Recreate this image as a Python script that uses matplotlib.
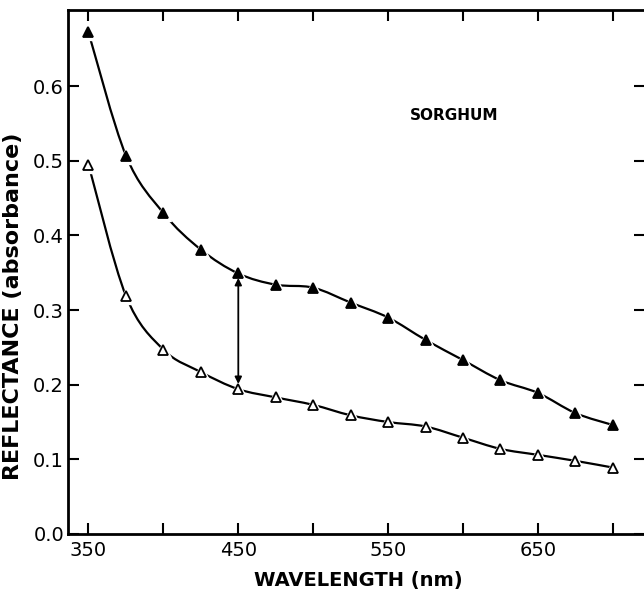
import numpy as np
import matplotlib
matplotlib.use("Agg")
import matplotlib.pyplot as plt
from matplotlib.path import Path
from matplotlib.patches import PathPatch

# wavelengths (nm) and values
wavelength = [350, 375, 400, 425, 450, 475, 500, 525, 550, 575, 600, 625, 650, 675, 700]
upper = [0.672, 0.507, 0.430, 0.381, 0.349, 0.334, 0.330, 0.310, 0.290, 0.260,
         0.233, 0.206, 0.189, 0.162, 0.146]
lower = [0.495, 0.319, 0.247, 0.217, 0.194, 0.183, 0.173, 0.159, 0.150, 0.144,
         0.129, 0.114, 0.106, 0.098, 0.089]

x_ticks = [350, 400, 450, 500, 550, 600, 650, 700]
x_labels = ["350", "", "450", "", "550", "", "650", ""]
y_ticks = [0.0, 0.1, 0.2, 0.3, 0.4, 0.5, 0.6]

plt.rcParams['font.family'] = ['DejaVu Sans']


def smooth_path(xs, ys):
    # hand-drawn look: cubic bezier segments through the points (catmull-rom tangents)
    pts = np.column_stack([xs, ys]).astype(float)
    n = len(pts)
    verts = [pts[0]]
    codes = [Path.MOVETO]
    for i in range(n - 1):
        p0 = pts[max(i - 1, 0)]
        p1 = pts[i]
        p2 = pts[i + 1]
        p3 = pts[min(i + 2, n - 1)]
        c1 = p1 + (p2 - p0) / 6.0
        c2 = p2 - (p3 - p1) / 6.0
        verts += [c1, c2, p2]
        codes += [Path.CURVE4] * 3
    return Path(verts, codes)


fig = plt.figure(figsize=(6.44, 5.89), dpi=100)
ax = fig.add_axes([0.106, 0.0934, 0.8956, 0.8896])

for vals, face in [(upper, 'black'), (lower, 'white')]:
    ax.add_patch(PathPatch(smooth_path(wavelength, vals), fc='none', ec='black',
                           lw=1.6, zorder=2))
    # white halo so the curve breaks around each marker
    ax.plot(wavelength, vals, ls='none', marker='^', ms=12, mfc='white',
            mec='white', zorder=3)
    ax.plot(wavelength, vals, ls='none', marker='^', ms=6.5, mfc=face,
            mec='black', mew=1.3, zorder=4)

# double-headed arrow between the curves at 450 nm
ax.annotate('', xy=(450, 0.343), xytext=(450, 0.201),
            arrowprops=dict(arrowstyle='<|-|>', color='black', lw=1.3,
                            mutation_scale=10, shrinkA=0, shrinkB=0))

ax.text(594, 0.561, 'SORGHUM', fontsize=11, fontweight='bold',
        ha='center', va='center')

ax.set_xlim(336.5, 721.5)
ax.set_ylim(0, 0.702)
ax.set_xticks(x_ticks)
ax.set_xticklabels(x_labels)
ax.set_yticks(y_ticks)
ax.set_yticklabels([f"{v:.1f}" for v in y_ticks])

ax.tick_params(direction='in', length=8, width=1.5, labelsize=14,
               top=True, right=True, pad=3)
ax.tick_params(axis='x', pad=5)
for s in ax.spines.values():
    s.set_linewidth(2)

ax.set_xlabel('WAVELENGTH (nm)', fontsize=14, fontweight='bold')
ax.xaxis.set_label_coords(0.503, -0.070)
ax.set_ylabel('REFLECTANCE (absorbance)', fontsize=16, fontweight='bold')
ax.yaxis.set_label_coords(-0.078, 0.435)

fig.savefig('out.png', dpi=100)
